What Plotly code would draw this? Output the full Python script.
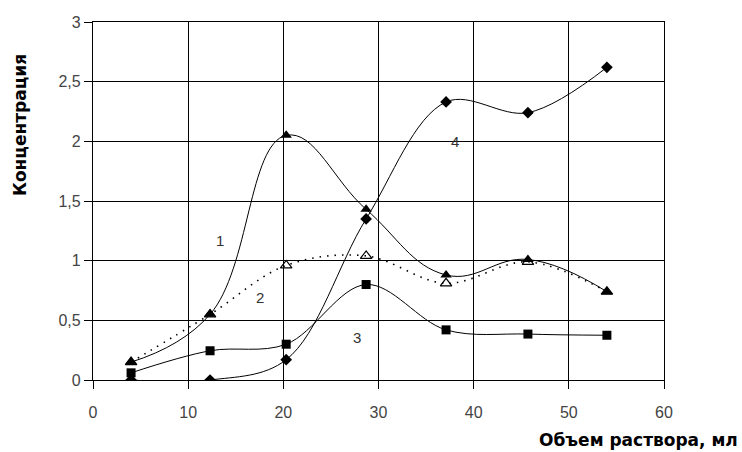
import plotly.graph_objects as go

volume = [4, 12.3, 20.3, 28.7, 37.1, 45.7, 54.0]
series1 = [0.15, 0.55, 2.05, 1.43, 0.88, 1.01, 0.74]
series2 = [0.15, 0.55, 0.96, 1.04, 0.81, 0.99, 0.74]
series3 = [0.06, 0.245, 0.30, 0.80, 0.42, 0.385, 0.375]
series4 = [0.0, 0.0, 0.17, 1.35, 2.33, 2.24, 2.62]

curve_labels = ["1", "2", "3", "4"]
label_x = [13.3, 17.5, 27.7, 38.0]
label_y = [1.17, 0.69, 0.36, 2.0]

x_ticks = [0, 10, 20, 30, 40, 50, 60]
y_ticks = [0, 0.5, 1, 1.5, 2, 2.5, 3]

fig = go.Figure()

fig.add_trace(go.Scatter(x=volume, y=series2, mode="lines+markers",
                         line=dict(color="black", width=1.6, dash="1.5px,6px", shape="spline"),
                         marker=dict(symbol="triangle-up-open", size=10, color="black",
                                     line=dict(width=1.2, color="black"))))
fig.add_trace(go.Scatter(x=volume, y=series1, mode="lines+markers",
                         line=dict(color="black", width=1, shape="spline", smoothing=1.2),
                         marker=dict(symbol="triangle-up", size=10, color="black")))
fig.add_trace(go.Scatter(x=volume, y=series3, mode="lines+markers",
                         line=dict(color="black", width=1, shape="spline"),
                         marker=dict(symbol="square", size=9, color="black")))
fig.add_trace(go.Scatter(x=volume, y=series4, mode="lines+markers",
                         line=dict(color="black", width=1, shape="spline"),
                         marker=dict(symbol="diamond", size=9, color="black")))

for t, lx, ly in zip(curve_labels, label_x, label_y):
    fig.add_annotation(x=lx, y=ly, text=t, showarrow=False,
                       font=dict(family="Liberation Sans", size=15, color="#333"))

fig.add_annotation(xref="paper", yref="paper", x=1.133, y=-0.168,
                   xanchor="right", yanchor="middle", showarrow=False,
                   text="Объем раствора, мл",
                   font=dict(family="DejaVu Sans", size=17, color="black", weight="bold"))
fig.add_annotation(xref="paper", yref="paper", x=-0.128, y=0.712,
                   xanchor="center", yanchor="middle", showarrow=False, textangle=-90,
                   text="Концентрация",
                   font=dict(family="DejaVu Sans", size=17, color="black", weight="bold"))

axis_common = dict(showgrid=True, gridcolor="black", gridwidth=1.3,
                   zeroline=False, showline=True, linecolor="black", linewidth=1.3,
                   mirror=True, ticks="outside", ticklen=8, tickcolor="black",
                   tickwidth=1.3,
                   tickfont=dict(family="Liberation Sans", size=16, color="#444"))

fig.update_xaxes(range=[0, 60], tickmode="array", tickvals=x_ticks, ticklabelstandoff=10,
                 **axis_common)
fig.update_yaxes(range=[0, 3], tickmode="array", tickvals=y_ticks, **axis_common)

fig.update_layout(width=742, height=452, showlegend=False,
                  separators=", ",
                  plot_bgcolor="white", paper_bgcolor="white",
                  margin=dict(l=93, r=78, t=22, b=72))

fig.write_html("out.html")
